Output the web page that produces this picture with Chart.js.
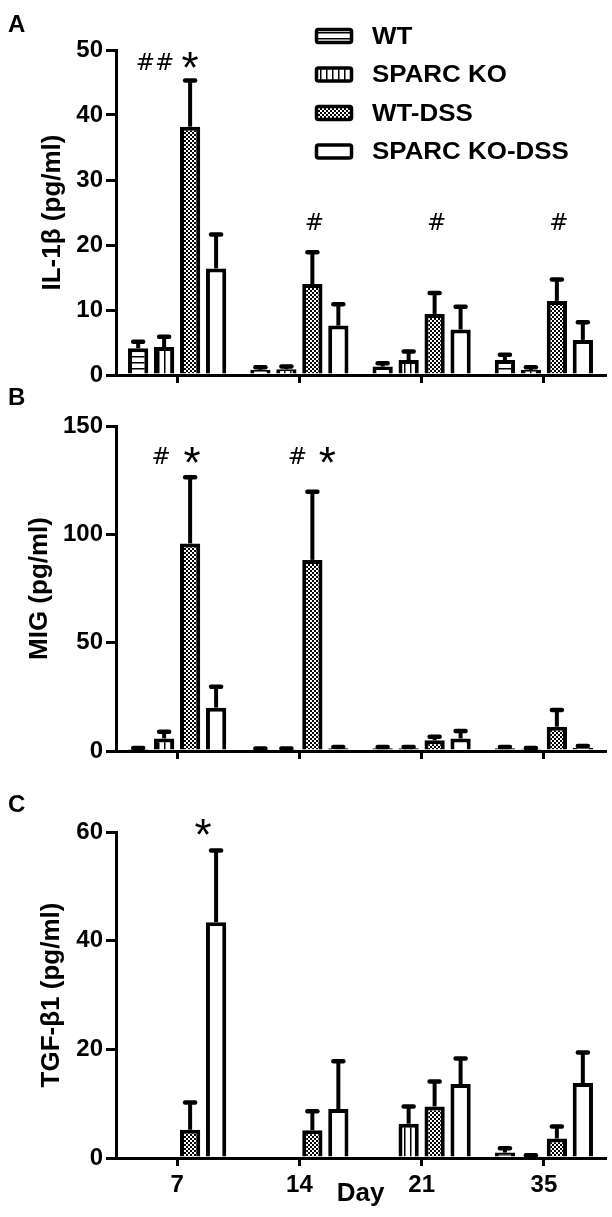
<!DOCTYPE html>
<html>
<head>
<meta charset="utf-8">
<script src="https://cdn.jsdelivr.net/npm/chart.js@4.4.0/dist/chart.umd.min.js"></script>
<style>
  body { margin: 0; background: #fff; width: 612px; height: 1217px; position: relative; overflow: hidden; }
  canvas { position: absolute; left: 0; }
</style>
</head>
<body>
<canvas id="chartA" width="612" height="400" style="top:0px"></canvas>
<canvas id="chartB" width="612" height="396" style="top:380px"></canvas>
<canvas id="chartC" width="612" height="437" style="top:780px"></canvas>
<script>
// dias y grupos
const days = ['7', '14', '21', '35'];
const groups = ['WT', 'SPARC KO', 'WT-DSS', 'SPARC KO-DSS'];

// A - IL-1β (media y error)
const il1bWT = [4.1, 0.8, 1.3, 2.3];
const il1bWTErr = [1.0, 0.4, 0.5, 0.8];
const il1bKO = [4.3, 0.9, 2.3, 0.8];
const il1bKOErr = [1.6, 0.4, 1.3, 0.4];
const il1bWTDSS = [38.2, 14.0, 9.4, 11.4];
const il1bWTDSSErr = [7.1, 4.9, 3.2, 3.3];
const il1bKODSS = [16.4, 7.6, 7.0, 5.4];
const il1bKODSSErr = [5.2, 3.3, 3.5, 2.7];

// B - MIG
const migWT = [0.9, 0.8, 1.3, 1.3];
const migWTErr = [0.5, 0.4, 0.5, 0.5];
const migKO = [5.8, 0.8, 1.3, 1.0];
const migKOErr = [3.1, 0.4, 0.5, 0.4];
const migWTDSS = [95.8, 88.2, 5.0, 11.2];
const migWTDSSErr = [30.5, 31.5, 1.6, 7.7];
const migKODSS = [20.0, 1.3, 5.8, 1.5];
const migKODSSErr = [9.7, 0.6, 3.4, 0.8];

// C - TGF-β1
const tgfWT = [0, 0, 0, 1.0];
const tgfWTErr = [0, 0, 0, 0.8];
const tgfKO = [0, 0, 6.3, 0.3];
const tgfKOErr = [0, 0, 3.2, 0.2];
const tgfWTDSS = [5.2, 5.1, 9.5, 3.6];
const tgfWTDSSErr = [5.0, 3.5, 4.6, 2.2];
const tgfKODSS = [43.4, 9.0, 13.6, 13.8];
const tgfKODSSErr = [13.2, 8.8, 4.7, 5.6];

const FONT = '"Liberation Sans", Arial, Helvetica, sans-serif';

// patrones de relleno (rayas, cuadros)
function makePattern(kind) {
    const c = document.createElement('canvas');
    const g = c.getContext('2d');
    if (kind === 'h') {
        c.width = 6; c.height = 6;
        g.fillStyle = '#fff'; g.fillRect(0, 0, 6, 6);
        g.fillStyle = '#000'; g.fillRect(0, 2, 6, 1.5);
    } else if (kind === 'v') {
        c.width = 6; c.height = 6;
        g.fillStyle = '#fff'; g.fillRect(0, 0, 6, 6);
        g.fillStyle = '#000'; g.fillRect(2, 0, 1.5, 6);
    } else if (kind === 'c') {
        c.width = 4; c.height = 4;
        g.fillStyle = '#fff'; g.fillRect(0, 0, 4, 4);
        g.fillStyle = '#000'; g.fillRect(0, 0, 2, 2); g.fillRect(2, 2, 2, 2);
    } else {
        c.width = 2; c.height = 2;
        g.fillStyle = '#fff'; g.fillRect(0, 0, 2, 2);
    }
    return g.createPattern(c, 'repeat');
}
const fills = [makePattern('h'), makePattern('v'), makePattern('c'), makePattern('w')];

// barras de error (solo hacia arriba)
const errorBars = {
    id: 'errorBars',
    afterDatasetsDraw(chart) {
        const ctx = chart.ctx;
        const y = chart.scales.y;
        chart.data.datasets.forEach((ds, i) => {
            chart.getDatasetMeta(i).data.forEach((bar, j) => {
                const e = ds.errors[j];
                if (!e) return;
                const top = y.getPixelForValue(ds.data[j] + e);
                ctx.save();
                ctx.strokeStyle = '#000';
                ctx.lineWidth = 4;
                ctx.beginPath();
                ctx.moveTo(bar.x, bar.y);
                ctx.lineTo(bar.x, top);
                ctx.stroke();
                ctx.lineWidth = 4.5;
                ctx.lineCap = 'round';
                ctx.beginPath();
                ctx.moveTo(bar.x - 5, top);
                ctx.lineTo(bar.x + 5, top);
                ctx.stroke();
                ctx.restore();
            });
        });
    }
};

// letra del panel, marcas de significancia y leyenda
const extras = {
    id: 'extras',
    afterDraw(chart, args, opts) {
        const ctx = chart.ctx;
        ctx.save();
        ctx.fillStyle = '#000';
        ctx.font = 'bold 24px ' + FONT;
        ctx.textAlign = 'left';
        ctx.textBaseline = 'alphabetic';
        ctx.fillText(opts.letter, 8, opts.letterY);

        (opts.marks || []).forEach(m => {
            const bar = chart.getDatasetMeta(m.ds).data[m.day];
            const x = bar.x + m.dx;
            const yc = chart.scales.y.getPixelForValue(m.at);
            ctx.font = m.text === '*' ? '44px ' + FONT : '23px "DejaVu Sans", sans-serif';
            ctx.textAlign = 'center';
            const mt = ctx.measureText(m.text);
            ctx.fillText(m.text, x, yc + (mt.actualBoundingBoxAscent - mt.actualBoundingBoxDescent) / 2);
        });

        if (opts.legend) {
            chart.data.datasets.forEach((ds, i) => {
                const cy = 36 + i * 38.5;
                ctx.beginPath();
                ctx.roundRect(316.5, cy - 6.5, 35, 13, 2);
                ctx.fillStyle = ds.backgroundColor;
                ctx.fill();
                ctx.lineWidth = 3.5;
                ctx.strokeStyle = '#000';
                ctx.stroke();
                ctx.fillStyle = '#000';
                ctx.font = 'bold 24px ' + FONT;
                ctx.textAlign = 'left';
                ctx.textBaseline = 'middle';
                ctx.save();
                ctx.translate(372, cy + 1);
                ctx.scale(1.08, 1);
                ctx.fillText(ds.label, 0, 0);
                ctx.restore();
                ctx.textBaseline = 'alphabetic';
            });
        }
        ctx.restore();
    }
};

function makeChart(id, series, errs, yOpts, extra) {
    const ctx = document.getElementById(id).getContext('2d');
    return new Chart(ctx, {
        type: 'bar',
        data: {
            labels: days,
            datasets: groups.map((g, i) => ({
                label: g,
                data: series[i],
                errors: errs[i],
                backgroundColor: fills[i],
                borderColor: '#000',
                borderWidth: 4,
                borderSkipped: 'start',
                categoryPercentage: 0.85,
                barPercentage: 0.78
            }))
        },
        options: {
            responsive: false,
            animation: false,
            layout: { padding: { top: yOpts.padTop, right: 7, left: 0, bottom: 0 } },
            plugins: {
                legend: { display: false },
                tooltip: { enabled: false },
                extras: extra
            },
            scales: {
                x: {
                    z: 1,
                    grid: { drawOnChartArea: false, offset: false, tickLength: 8, color: '#000', lineWidth: 3 },
                    border: { display: true, color: '#000', width: 3 },
                    ticks: { display: yOpts.showX, color: '#000', padding: 5, font: { family: FONT, size: 24, weight: 'bold' } },
                    title: { display: yOpts.showX, text: 'Day', color: '#000', padding: { bottom: 8 }, font: { family: FONT, size: 26, weight: 'bold' } },
                    afterFit(s) { s.height = yOpts.xHeight; }
                },
                y: {
                    min: 0,
                    max: yOpts.max,
                    ticks: { stepSize: yOpts.step, color: '#000', padding: 3, font: { family: FONT, size: 24, weight: 'bold' } },
                    grid: { drawOnChartArea: false, tickLength: 10, color: '#000', lineWidth: 3 },
                    border: { display: true, color: '#000', width: 3 },
                    title: { display: true, text: yOpts.title, color: '#000', padding: { top: yOpts.titlePad }, font: { family: FONT, size: 26, weight: 'bold' } },
                    afterFit(s) { s.width = 116; }
                }
            }
        },
        plugins: [errorBars, extras]
    });
}

makeChart('chartA',
    [il1bWT, il1bKO, il1bWTDSS, il1bKODSS],
    [il1bWTErr, il1bKOErr, il1bWTDSSErr, il1bKODSSErr],
    { padTop: 50, max: 50, step: 10, title: 'IL-1β (pg/ml)', titlePad: 37, showX: false, xHeight: 25 },
    {
        letter: 'A', letterY: 32, legend: true,
        marks: [
            { day: 0, ds: 2, dx: -35, at: 48.2, text: '##' },
            { day: 0, ds: 2, dx: 0, at: 48.4, text: '*' },
            { day: 1, ds: 2, dx: 2, at: 23.6, text: '#' },
            { day: 2, ds: 2, dx: 2, at: 23.6, text: '#' },
            { day: 3, ds: 2, dx: 2, at: 23.6, text: '#' }
        ]
    });

makeChart('chartB',
    [migWT, migKO, migWTDSS, migKODSS],
    [migWTErr, migKOErr, migWTDSSErr, migKODSSErr],
    { padTop: 46, max: 150, step: 50, title: 'MIG (pg/ml)', titlePad: 24, showX: false, xHeight: 25 },
    {
        letter: 'B', letterY: 25,
        marks: [
            { day: 0, ds: 1, dx: -3, at: 136.5, text: '#' },
            { day: 0, ds: 2, dx: 2, at: 136.5, text: '*' },
            { day: 1, ds: 2, dx: -15, at: 136.5, text: '#' },
            { day: 1, ds: 2, dx: 15, at: 136.5, text: '*' }
        ]
    });

makeChart('chartC',
    [tgfWT, tgfKO, tgfWTDSS, tgfKODSS],
    [tgfWTErr, tgfKOErr, tgfWTDSSErr, tgfKODSSErr],
    { padTop: 52, max: 60, step: 20, title: 'TGF-β1 (pg/ml)', titlePad: 36, showX: true, xHeight: 59 },
    {
        letter: 'C', letterY: 32,
        marks: [
            { day: 0, ds: 2, dx: 13, at: 61, text: '*' }
        ]
    });
</script>
</body>
</html>
